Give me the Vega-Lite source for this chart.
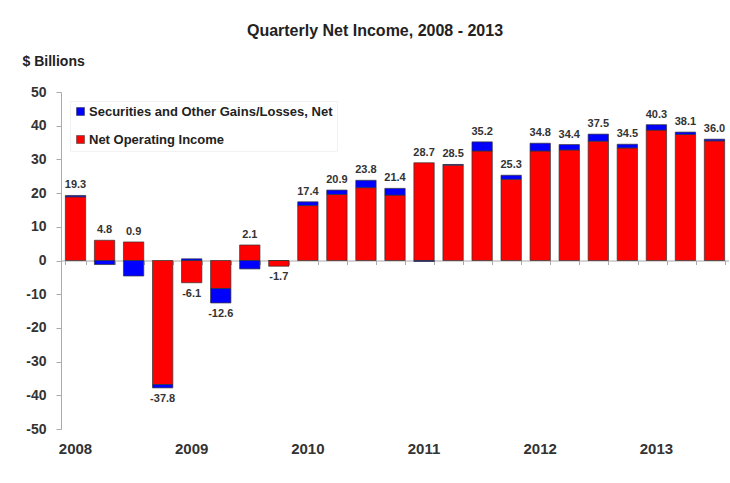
{
  "$schema": "https://vega.github.io/schema/vega-lite/v6.json",
  "autosize": {"type": "none"},
  "padding": {"left": 61, "top": 92, "right": 0, "bottom": 54},
  "width": 668,
  "height": 337,
  "background": "white",
  "title": {
    "text": "Quarterly Net Income, 2008 - 2013",
    "font": "Liberation Sans",
    "fontSize": 16,
    "fontWeight": "bold",
    "color": "#222222",
    "anchor": "middle",
    "dx": -20,
    "offset": 15
  },
  "config": {
    "view": {"stroke": null},
    "font": "Liberation Sans",
    "locale": {"number": {"decimal": ".", "thousands": ",", "grouping": [3], "currency": ["$", ""], "minus": "-"}}
  },
  "data": {
    "values": [
      {"q": "2008 Q1", "series": "Net Operating Income", "value": 18.9},
      {"q": "2008 Q1", "series": "Securities and Other Gains/Losses, Net", "value": 0.4},
      {"q": "2008 Q2", "series": "Net Operating Income", "value": 6.0},
      {"q": "2008 Q2", "series": "Securities and Other Gains/Losses, Net", "value": -1.2},
      {"q": "2008 Q3", "series": "Net Operating Income", "value": 5.5},
      {"q": "2008 Q3", "series": "Securities and Other Gains/Losses, Net", "value": -4.6},
      {"q": "2008 Q4", "series": "Net Operating Income", "value": -36.8},
      {"q": "2008 Q4", "series": "Securities and Other Gains/Losses, Net", "value": -1.0},
      {"q": "2009 Q1", "series": "Net Operating Income", "value": -6.6},
      {"q": "2009 Q1", "series": "Securities and Other Gains/Losses, Net", "value": 0.5},
      {"q": "2009 Q2", "series": "Net Operating Income", "value": -8.3},
      {"q": "2009 Q2", "series": "Securities and Other Gains/Losses, Net", "value": -4.3},
      {"q": "2009 Q3", "series": "Net Operating Income", "value": 4.6},
      {"q": "2009 Q3", "series": "Securities and Other Gains/Losses, Net", "value": -2.5},
      {"q": "2009 Q4", "series": "Net Operating Income", "value": -1.7},
      {"q": "2009 Q4", "series": "Securities and Other Gains/Losses, Net", "value": 0.0},
      {"q": "2010 Q1", "series": "Net Operating Income", "value": 16.3},
      {"q": "2010 Q1", "series": "Securities and Other Gains/Losses, Net", "value": 1.1},
      {"q": "2010 Q2", "series": "Net Operating Income", "value": 19.6},
      {"q": "2010 Q2", "series": "Securities and Other Gains/Losses, Net", "value": 1.3},
      {"q": "2010 Q3", "series": "Net Operating Income", "value": 21.6},
      {"q": "2010 Q3", "series": "Securities and Other Gains/Losses, Net", "value": 2.2},
      {"q": "2010 Q4", "series": "Net Operating Income", "value": 19.4},
      {"q": "2010 Q4", "series": "Securities and Other Gains/Losses, Net", "value": 2.0},
      {"q": "2011 Q1", "series": "Net Operating Income", "value": 29.0},
      {"q": "2011 Q1", "series": "Securities and Other Gains/Losses, Net", "value": -0.3},
      {"q": "2011 Q2", "series": "Net Operating Income", "value": 28.3},
      {"q": "2011 Q2", "series": "Securities and Other Gains/Losses, Net", "value": 0.2},
      {"q": "2011 Q3", "series": "Net Operating Income", "value": 32.5},
      {"q": "2011 Q3", "series": "Securities and Other Gains/Losses, Net", "value": 2.7},
      {"q": "2011 Q4", "series": "Net Operating Income", "value": 24.1},
      {"q": "2011 Q4", "series": "Securities and Other Gains/Losses, Net", "value": 1.2},
      {"q": "2012 Q1", "series": "Net Operating Income", "value": 32.5},
      {"q": "2012 Q1", "series": "Securities and Other Gains/Losses, Net", "value": 2.3},
      {"q": "2012 Q2", "series": "Net Operating Income", "value": 32.8},
      {"q": "2012 Q2", "series": "Securities and Other Gains/Losses, Net", "value": 1.6},
      {"q": "2012 Q3", "series": "Net Operating Income", "value": 35.4},
      {"q": "2012 Q3", "series": "Securities and Other Gains/Losses, Net", "value": 2.1},
      {"q": "2012 Q4", "series": "Net Operating Income", "value": 33.4},
      {"q": "2012 Q4", "series": "Securities and Other Gains/Losses, Net", "value": 1.1},
      {"q": "2013 Q1", "series": "Net Operating Income", "value": 38.7},
      {"q": "2013 Q1", "series": "Securities and Other Gains/Losses, Net", "value": 1.6},
      {"q": "2013 Q2", "series": "Net Operating Income", "value": 37.4},
      {"q": "2013 Q2", "series": "Securities and Other Gains/Losses, Net", "value": 0.7},
      {"q": "2013 Q3", "series": "Net Operating Income", "value": 35.5},
      {"q": "2013 Q3", "series": "Securities and Other Gains/Losses, Net", "value": 0.5}
    ]
  },
  "resolve": {"axis": {"x": "independent", "y": "independent"}},
  "layer": [
    {
      "mark": {"type": "bar", "stroke": "#333333", "strokeWidth": 0.7},
      "encoding": {
        "x": {
          "field": "q",
          "type": "ordinal",
          "sort": null,
          "scale": {"paddingInner": 0.3, "paddingOuter": 0.15},
          "axis": {
            "orient": "bottom",
            "title": null,
            "domain": false,
            "ticks": false,
            "labelAngle": 0,
            "labelExpr": "indexof(datum.value, 'Q1') > 0 ? slice(datum.value, 0, 4) : ''",
            "labelFont": "Liberation Sans",
            "labelFontSize": 15,
            "labelFontWeight": "bold",
            "labelColor": "#333333",
            "labelPadding": 12
          }
        },
        "y": {
          "field": "value",
          "type": "quantitative",
          "stack": "zero",
          "scale": {"domain": [-50, 50], "nice": false},
          "axis": {
            "values": [-50, -40, -30, -20, -10, 0, 10, 20, 30, 40, 50],
            "labelOverlap": false,
            "grid": false,
            "title": "$ Billions",
            "titleAngle": 0,
            "titleAlign": "left",
            "titleBaseline": "middle",
            "titleX": -39,
            "titleY": -31,
            "titleFont": "Liberation Sans",
            "titleFontSize": 14,
            "titleFontWeight": "bold",
            "titleColor": "#222222",
            "labelFont": "Liberation Sans",
            "labelFontSize": 14,
            "labelFontWeight": "bold",
            "labelColor": "#333333",
            "labelPadding": 10,
            "tickSize": 5,
            "tickColor": "#aaaaaa",
            "domainColor": "#aaaaaa"
          }
        },
        "color": {
          "field": "series",
          "type": "nominal",
          "scale": {
            "domain": ["Securities and Other Gains/Losses, Net", "Net Operating Income"],
            "range": ["#0000ff", "#ff0000"]
          },
          "legend": {
            "title": null,
            "orient": "none",
            "legendX": 9,
            "legendY": 9,
            "padding": 4,
            "fillColor": "white",
            "strokeColor": "#f2f2f2",
            "symbolType": "square",
            "symbolSize": 64,
            "symbolStrokeWidth": 0.5,
            "symbolStrokeColor": "#333333",
            "labelFont": "Liberation Sans",
            "labelFontSize": 13,
            "labelFontWeight": "bold",
            "labelColor": "#222222",
            "labelOffset": 2,
            "labelLimit": 400,
            "rowPadding": 14
          }
        },
        "order": {"field": "series", "sort": "ascending"}
      }
    },
    {
      "transform": [
        {"joinaggregate": [{"op": "sum", "field": "value", "as": "total"}], "groupby": ["q"]},
        {"filter": "datum.total >= 0 && datum.value > 0"},
        {"aggregate": [
          {"op": "sum", "field": "value", "as": "ptop"},
          {"op": "max", "field": "total", "as": "tot"}
        ], "groupby": ["q"]}
      ],
      "mark": {"type": "text", "font": "Liberation Sans", "fontSize": 11, "fontWeight": "bold", "color": "#333333", "baseline": "middle", "dy": -10},
      "encoding": {
        "x": {
          "field": "q",
          "type": "ordinal",
          "sort": null,
          "axis": {
            "orient": "top",
            "offset": -168.5,
            "title": null,
            "labels": false,
            "domain": true,
            "domainColor": "#aaaaaa",
            "ticks": true,
            "tickBand": "extent",
            "tickSize": -4,
            "tickColor": "#aaaaaa"
          }
        },
        "y": {"field": "ptop", "type": "quantitative", "axis": null},
        "text": {"field": "tot", "type": "quantitative", "format": ".1f"}
      }
    },
    {
      "transform": [
        {"joinaggregate": [{"op": "sum", "field": "value", "as": "total"}], "groupby": ["q"]},
        {"filter": "datum.total < 0 && datum.value < 0"},
        {"aggregate": [
          {"op": "sum", "field": "value", "as": "nbot"},
          {"op": "max", "field": "total", "as": "tot"}
        ], "groupby": ["q"]}
      ],
      "mark": {"type": "text", "font": "Liberation Sans", "fontSize": 11, "fontWeight": "bold", "color": "#333333", "baseline": "middle", "dy": 11},
      "encoding": {
        "x": {"field": "q", "type": "ordinal", "sort": null, "axis": null},
        "y": {"field": "nbot", "type": "quantitative", "axis": null},
        "text": {"field": "tot", "type": "quantitative", "format": ".1f"}
      }
    }
  ]
}
